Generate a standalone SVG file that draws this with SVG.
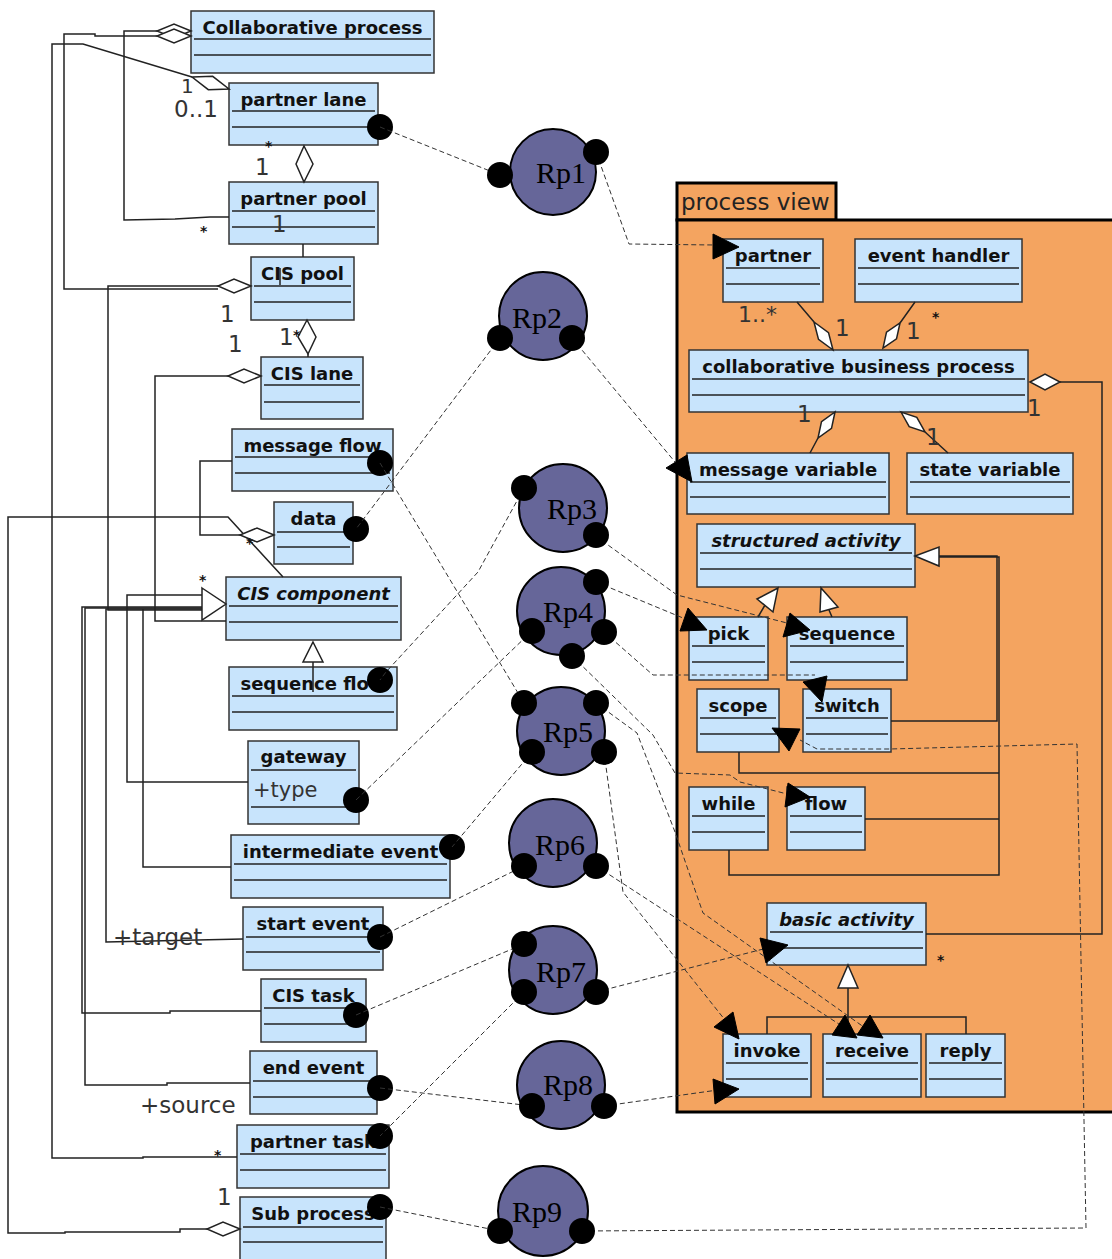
<svg xmlns="http://www.w3.org/2000/svg" width="1112" height="1259" viewBox="0 0 1112 1259">
<style>
.cls rect{fill:#C8E4FC;stroke:#333;stroke-width:1.5}
.sep{stroke:#222;stroke-width:1.5;fill:none}
.name{font-family:"DejaVu Sans",sans-serif;font-weight:bold;font-size:18px;text-anchor:middle;fill:#111}
.it{font-style:italic}
.attr{font-family:"DejaVu Sans",sans-serif;font-size:21px;fill:#333}
.lbl{font-family:"DejaVu Sans",sans-serif;font-size:23px;fill:#333}
.ast{font-family:"DejaVu Sans",sans-serif;font-weight:bold;font-size:14px;fill:#111}
.pkg{fill:#F4A460;stroke:#000;stroke-width:3}
.pkgt{font-family:"DejaVu Sans",sans-serif;font-size:23px;fill:#222}
.rc{fill:#666699;stroke:#000;stroke-width:2}
.rpt{font-family:"Liberation Serif",serif;font-size:30px;fill:#000}
.dot{fill:#000}
.solid{fill:none;stroke:#222;stroke-width:1.5}
.dash{fill:none;stroke:#333;stroke-width:1;stroke-dasharray:5,3}
.dia{fill:#fff;stroke:#222;stroke-width:1.5}
.arr{fill:#000;stroke:#000;stroke-width:1}
</style>

<g id="process-view">
<rect class="pkg" x="677" y="183" width="159" height="37"/>
<rect class="pkg" x="677" y="220" width="445" height="892"/>
<text class="pkgt" x="681" y="210">process view</text>
</g>

<g id="n-collab" class="cls"><rect x="191" y="11" width="243" height="62"/><path class="sep" d="M194,39H431M194,55H431"/><text class="name" x="312.5" y="34">Collaborative process</text></g>
<g id="n-plane" class="cls"><rect x="229" y="83" width="149" height="62"/><path class="sep" d="M232,111H375M232,127H375"/><text class="name" x="303.5" y="106">partner lane</text><circle class="dot" cx="380" cy="127" r="13"/></g>
<g id="n-ppool" class="cls"><rect x="229" y="182" width="149" height="62"/><path class="sep" d="M232,211H375M232,227H375"/><text class="name" x="303.5" y="205">partner pool</text></g>
<g id="n-cpool" class="cls"><rect x="251" y="257" width="103" height="63"/><path class="sep" d="M254,286H351M254,302H351"/><text class="name" x="302.5" y="280">CIS pool</text></g>
<g id="n-clane" class="cls"><rect x="261" y="357" width="102" height="62"/><path class="sep" d="M264,385H360M264,402H360"/><text class="name" x="312" y="380">CIS lane</text></g>
<g id="n-mflow" class="cls"><rect x="232" y="429" width="161" height="62"/><path class="sep" d="M235,457H390M235,473H390"/><text class="name" x="312.5" y="452">message flow</text><circle class="dot" cx="380" cy="463" r="13"/></g>
<g id="n-data" class="cls"><rect x="274" y="502" width="79" height="62"/><path class="sep" d="M277,532H350M277,547H350"/><text class="name" x="313.5" y="525">data</text><circle class="dot" cx="356" cy="529" r="13"/></g>
<g id="n-ccomp" class="cls"><rect x="226" y="577" width="175" height="63"/><path class="sep" d="M229,606H398M229,622H398"/><text class="name it" x="313.5" y="600">CIS component</text></g>
<g id="n-sflow" class="cls"><rect x="229" y="667" width="168" height="63"/><path class="sep" d="M232,696H394M232,712H394"/><text class="name" x="313" y="690">sequence flow</text><circle class="dot" cx="380" cy="680" r="13"/></g>
<g id="n-gateway" class="cls"><rect x="248" y="741" width="111" height="83"/><path class="sep" d="M251,770H356M251,807H356"/><text class="name" x="303.5" y="763">gateway</text><text class="attr" x="253" y="797">+type</text><circle class="dot" cx="356" cy="800" r="13"/></g>
<g id="n-ievent" class="cls"><rect x="231" y="835" width="219" height="63"/><path class="sep" d="M234,864H447M234,880H447"/><text class="name" x="340.5" y="858">intermediate event</text><circle class="dot" cx="452" cy="847" r="13"/></g>
<g id="n-sevent" class="cls"><rect x="243" y="907" width="140" height="63"/><path class="sep" d="M246,937H380M246,952H380"/><text class="name" x="313" y="930">start event</text><circle class="dot" cx="380" cy="937" r="13"/></g>
<g id="n-ctask" class="cls"><rect x="261" y="979" width="105" height="63"/><path class="sep" d="M264,1008H363M264,1024H363"/><text class="name" x="313.5" y="1002">CIS task</text><circle class="dot" cx="356" cy="1015" r="13"/></g>
<g id="n-eevent" class="cls"><rect x="250" y="1051" width="127" height="63"/><path class="sep" d="M253,1081H374M253,1097H374"/><text class="name" x="313.5" y="1074">end event</text><circle class="dot" cx="380" cy="1088" r="13"/></g>
<g id="n-ptask" class="cls"><rect x="237" y="1125" width="152" height="63"/><path class="sep" d="M240,1154H386M240,1170H386"/><text class="name" x="313" y="1148">partner task</text><circle class="dot" cx="380" cy="1136" r="13"/></g>
<g id="n-subp" class="cls"><rect x="240" y="1197" width="146" height="70"/><path class="sep" d="M243,1227H383M243,1242H383"/><text class="name" x="313" y="1220">Sub process</text><circle class="dot" cx="380" cy="1207" r="13"/></g>

<g id="n-partner" class="cls"><rect x="723" y="239" width="100" height="63"/><path class="sep" d="M726,268H820M726,284H820"/><text class="name" x="773" y="262">partner</text></g>
<g id="n-ehandler" class="cls"><rect x="855" y="239" width="167" height="63"/><path class="sep" d="M858,268H1019M858,284H1019"/><text class="name" x="938.5" y="262">event handler</text></g>
<g id="n-cbp" class="cls"><rect x="689" y="350" width="339" height="62"/><path class="sep" d="M692,379H1025M692,395H1025"/><text class="name" x="858.5" y="373">collaborative business process</text></g>
<g id="n-msgvar" class="cls"><rect x="687" y="453" width="202" height="61"/><path class="sep" d="M690,482H886M690,497H886"/><text class="name" x="788" y="476">message variable</text></g>
<g id="n-statevar" class="cls"><rect x="907" y="453" width="166" height="61"/><path class="sep" d="M910,482H1070M910,497H1070"/><text class="name" x="990" y="476">state variable</text></g>
<g id="n-structact" class="cls"><rect x="697" y="524" width="218" height="63"/><path class="sep" d="M700,553H912M700,569H912"/><text class="name it" x="806" y="547">structured activity</text></g>
<g id="n-pick" class="cls"><rect x="689" y="617" width="79" height="63"/><path class="sep" d="M692,646H765M692,662H765"/><text class="name" x="728.5" y="640">pick</text></g>
<g id="n-sequence" class="cls"><rect x="787" y="617" width="120" height="63"/><path class="sep" d="M790,646H904M790,662H904"/><text class="name" x="847" y="640">sequence</text></g>
<g id="n-scope" class="cls"><rect x="697" y="689" width="82" height="63"/><path class="sep" d="M700,718H776M700,734H776"/><text class="name" x="738" y="712">scope</text></g>
<g id="n-switch" class="cls"><rect x="803" y="689" width="88" height="63"/><path class="sep" d="M806,718H888M806,734H888"/><text class="name" x="847" y="712">switch</text></g>
<g id="n-while" class="cls"><rect x="689" y="787" width="79" height="63"/><path class="sep" d="M692,816H765M692,832H765"/><text class="name" x="728.5" y="810">while</text></g>
<g id="n-flow" class="cls"><rect x="787" y="787" width="78" height="63"/><path class="sep" d="M790,816H862M790,832H862"/><text class="name" x="826" y="810">flow</text></g>
<g id="n-basicact" class="cls"><rect x="767" y="903" width="159" height="62"/><path class="sep" d="M770,932H923M770,948H923"/><text class="name it" x="846.5" y="926">basic activity</text></g>
<g id="n-invoke" class="cls"><rect x="723" y="1034" width="88" height="63"/><path class="sep" d="M726,1063H808M726,1079H808"/><text class="name" x="767" y="1057">invoke</text></g>
<g id="n-receive" class="cls"><rect x="823" y="1034" width="98" height="63"/><path class="sep" d="M826,1063H918M826,1079H918"/><text class="name" x="872" y="1057">receive</text></g>
<g id="n-reply" class="cls"><rect x="926" y="1034" width="79" height="63"/><path class="sep" d="M929,1063H1002M929,1079H1002"/><text class="name" x="965.5" y="1057">reply</text></g>

<g id="connectors">
<path class="solid" d="M157,31H124V220L175,219L210,217H229"/>
<path class="solid" d="M157,36H95V34H64V289H218"/>
<path class="solid" d="M192,77L83,44H52V1158H143V1157H237"/>
<path class="solid" d="M207,1229H180V1232H65V1233H8V517H228L283,577"/>
<path class="solid" d="M240,535H200V461H232"/>
<path class="solid" d="M228,376H155V621H226"/>
<path class="solid" d="M218,286H108V610H203"/>
<path class="solid" d="M248,782H127V595H205"/>
<path class="solid" d="M261,1011H170V1013H82V607H203"/>
<path class="solid" d="M250,1083H167V1085H85V608H203"/>
<path class="solid" d="M243,939L106,942V609H203"/>
<path class="solid" d="M231,867H143V609"/>
<path class="solid" d="M303,244V257M308,354V357M313,662V692M280,268V285"/>
<polygon class="dia" points="191,31 174,24 157,31 174,38"/>
<polygon class="dia" points="191,36 174,29 157,36 174,43"/>
<polygon class="dia" points="192,77 212.7,76.3 229,89 208.3,89.7"/>
<polygon class="dia" points="304,146 313,164 304,182 296,164"/>
<polygon class="dia" points="251,286 234,279 218,286 234,293"/>
<polygon class="dia" points="307,320 316,337 308,354 298,337"/>
<polygon class="dia" points="261,376 244,369 228,376 244,383"/>
<polygon class="dia" points="274,535 257,528 240,535 257,542"/>
<polygon class="dia" points="240,1229 223,1222 207,1229 223,1236"/>
<polygon class="dia" points="202,588 226,604 202,620"/>
<polygon class="dia" points="313,642 323,662 303,662"/>
<path class="solid" d="M797,302L814,322M915,302L900,323M818,438L810,453M925,432L948,453"/>
<path class="solid" d="M1060,382H1102V934H926"/>
<path class="solid" d="M939,556H997V721H891M939,557H999V875H729V850M739,752V773H999M865,819H999"/>
<path class="solid" d="M765,605L758,617M829,610L832,617"/>
<path class="solid" d="M848,988V1034M767,1034V1017H966V1034"/>
<polygon class="dia" points="814,322 828.5,332.6 833,350 818.5,339.4"/>
<polygon class="dia" points="900,323 896.5,338.9 883,348 886.5,332.1"/>
<polygon class="dia" points="835,412 831.5,428.3 818,438 821.5,421.7"/>
<polygon class="dia" points="901,412 909.2,426.6 925,432 916.8,417.4"/>
<polygon class="dia" points="1030,382 1045,374 1060,382 1045,390"/>
<polygon class="dia" points="915,556 939,547 939,566"/>
<polygon class="dia" points="778,588 757,599 773,612"/>
<polygon class="dia" points="821,588 820,612 838,607"/>
<polygon class="dia" points="848,965 858,988 838,988"/>
<path class="dash" d="M380,127L500,175"/>
<path class="dash" d="M596,152L629,244L715,245"/>
<polygon class="arr" points="713,234 739,247 713,259"/>
<path class="dash" d="M500,338L356,529"/>
<path class="dash" d="M572,338L675,462"/>
<polygon class="arr" points="666,468 687,455 692,482"/>
<path class="dash" d="M380,463L524,703"/>
<path class="dash" d="M524,488L478,572L386,672L380,680"/>
<path class="dash" d="M596,535L608,545L677,595L787,623"/>
<polygon class="arr" points="783,637 790,613 810,630"/>
<path class="dash" d="M596,582L683,618"/>
<polygon class="arr" points="680,631 688,608 707,630"/>
<path class="dash" d="M604,632L653,675H815"/>
<polygon class="arr" points="803,682 827,676 822,702"/>
<path class="dash" d="M572,656L653,735L675,773L730,775L740,782L795,796"/>
<polygon class="arr" points="788,783 785,807 810,797"/>
<path class="dash" d="M356,800L532,631"/>
<path class="dash" d="M596,703L637,733L675,832L695,890L703,913L868,1030"/>
<polygon class="arr" points="857,1035 870,1015 883,1038"/>
<path class="dash" d="M604,752L623,892L733,1030"/>
<polygon class="arr" points="714,1027 733,1012 739,1039"/>
<path class="dash" d="M532,752L452,847"/>
<path class="dash" d="M380,937L524,866"/>
<path class="dash" d="M596,866L845,1028"/>
<polygon class="arr" points="832,1035 845,1015 857,1038"/>
<path class="dash" d="M356,1015L524,944"/>
<path class="dash" d="M596,992L775,946"/>
<polygon class="arr" points="760,938 788,945 766,963"/>
<path class="dash" d="M524,992L380,1136"/>
<path class="dash" d="M380,1088L532,1106"/>
<path class="dash" d="M604,1106L725,1089"/>
<polygon class="arr" points="713,1079 739,1089 715,1104"/>
<path class="dash" d="M380,1207L500,1231"/>
<path class="dash" d="M582,1231L1086,1228L1077,744L890,749H817L800,740"/>
<polygon class="arr" points="772,728 800,729 789,751"/>
</g>

<g id="labels">
<text class="lbl" x="174" y="117">0..1</text>
<text class="lbl" x="181" y="93" style="font-size:20px">1</text>
<text class="lbl" x="255" y="175">1</text>
<text class="ast" x="265" y="151">*</text>
<text class="ast" x="200" y="236">*</text>
<text class="lbl" x="272" y="232">1</text>
<text class="lbl" x="220" y="322">1</text>
<text class="lbl" x="228" y="352">1</text>
<text class="lbl" x="279" y="345">1</text>
<text class="ast" x="293" y="340">*</text>
<text class="ast" x="246" y="548">*</text>
<text class="ast" x="199" y="585">*</text>
<text class="lbl" x="113" y="945">+target</text>
<text class="lbl" x="140" y="1113">+source</text>
<text class="ast" x="214" y="1160">*</text>
<text class="lbl" x="217" y="1205">1</text>
<text class="lbl" x="738" y="322" style="font-size:22px">1..*</text>
<text class="lbl" x="835" y="336">1</text>
<text class="lbl" x="906" y="339">1</text>
<text class="ast" x="932" y="322">*</text>
<text class="lbl" x="797" y="422">1</text>
<text class="lbl" x="926" y="445">1</text>
<text class="lbl" x="1027" y="416">1</text>
<text class="ast" x="937" y="965">*</text>
</g>

<g id="rp1"><circle class="rc" cx="553" cy="172" r="43"/><text class="rpt" x="536" y="183">Rp1</text><circle class="dot" cx="500" cy="175" r="13"/><circle class="dot" cx="596" cy="152" r="13"/></g>
<g id="rp2"><circle class="rc" cx="543" cy="316" r="44"/><text class="rpt" x="512" y="328">Rp2</text><circle class="dot" cx="500" cy="338" r="13"/><circle class="dot" cx="572" cy="338" r="13"/></g>
<g id="rp3"><circle class="rc" cx="563" cy="508" r="44"/><text class="rpt" x="547" y="519">Rp3</text><circle class="dot" cx="524" cy="488" r="13"/><circle class="dot" cx="596" cy="535" r="13"/></g>
<g id="rp4"><circle class="rc" cx="561" cy="611" r="44"/><text class="rpt" x="543" y="622">Rp4</text><circle class="dot" cx="596" cy="582" r="13"/><circle class="dot" cx="532" cy="631" r="13"/><circle class="dot" cx="604" cy="632" r="13"/><circle class="dot" cx="572" cy="656" r="13"/></g>
<g id="rp5"><circle class="rc" cx="561" cy="731" r="44"/><text class="rpt" x="543" y="742">Rp5</text><circle class="dot" cx="524" cy="703" r="13"/><circle class="dot" cx="596" cy="703" r="13"/><circle class="dot" cx="532" cy="752" r="13"/><circle class="dot" cx="604" cy="752" r="13"/></g>
<g id="rp6"><circle class="rc" cx="553" cy="843" r="44"/><text class="rpt" x="535" y="855">Rp6</text><circle class="dot" cx="524" cy="866" r="13"/><circle class="dot" cx="596" cy="866" r="13"/></g>
<g id="rp7"><circle class="rc" cx="553" cy="970" r="44"/><text class="rpt" x="536" y="982">Rp7</text><circle class="dot" cx="524" cy="944" r="13"/><circle class="dot" cx="524" cy="992" r="13"/><circle class="dot" cx="596" cy="992" r="13"/></g>
<g id="rp8"><circle class="rc" cx="561" cy="1085" r="44"/><text class="rpt" x="543" y="1095">Rp8</text><circle class="dot" cx="532" cy="1106" r="13"/><circle class="dot" cx="604" cy="1106" r="13"/></g>
<g id="rp9"><circle class="rc" cx="543" cy="1211" r="45"/><text class="rpt" x="512" y="1222">Rp9</text><circle class="dot" cx="500" cy="1231" r="13"/><circle class="dot" cx="582" cy="1231" r="13"/></g>
</svg>
